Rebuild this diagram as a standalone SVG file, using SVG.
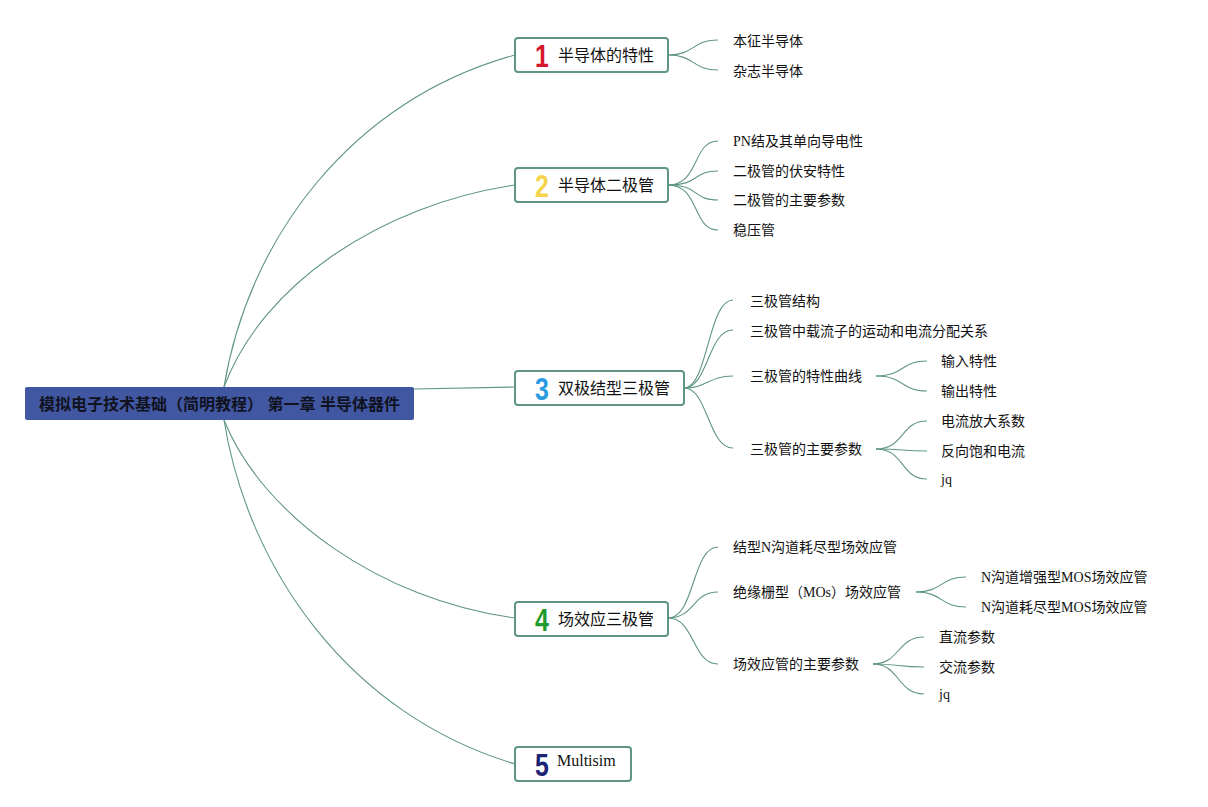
<svg xmlns="http://www.w3.org/2000/svg" width="1208" height="807" viewBox="0 0 1208 807">
<style>
.c{fill:none;stroke:#5f9583;stroke-width:1.1}
.box{fill:#fff;stroke:#5f9583;stroke-width:2}
.t{font-family:"Liberation Serif","Noto Sans CJK SC",serif;font-size:14px;fill:#111}
.bt{font-family:"Liberation Serif","Noto Sans CJK SC",serif;font-size:16px;fill:#111}
.num{font-family:"Liberation Sans","DejaVu Sans",sans-serif;font-size:31px;font-weight:bold}
.root{font-family:"Liberation Sans","Noto Sans CJK SC",sans-serif;font-size:16px;font-weight:bold;fill:#10131f}
</style>
<rect width="1208" height="807" fill="#fff"/>
<g id="connectors">
<path class="c" d="M224,387 C248,240 350,100 515,55"/>
<path class="c" d="M224,387 C262,285 380,205 515,185"/>
<path class="c" d="M414,389 L515,387"/>
<path class="c" d="M224,420 C262,515 380,600 515,618"/>
<path class="c" d="M224,420 C248,570 350,715 515,764"/>
<path class="c" d="M668,55 C695,55 692,40 718,40"/>
<path class="c" d="M668,55 C695,55 692,70 718,70"/>
<path class="c" d="M668,185 C700,185 692,141 718,141"/>
<path class="c" d="M668,185 C700,185 692,171 718,171"/>
<path class="c" d="M668,185 C700,185 692,200 718,200"/>
<path class="c" d="M668,185 C700,185 692,230 718,230"/>
<path class="c" d="M684,388 C708,388 708,300 733,300"/>
<path class="c" d="M684,388 C708,388 708,330 733,330"/>
<path class="c" d="M684,388 C708,388 708,376 733,376"/>
<path class="c" d="M684,388 C708,388 708,448 733,448"/>
<path class="c" d="M876,376 C905,376 900,361 927,361"/>
<path class="c" d="M876,376 C905,376 900,391 927,391"/>
<path class="c" d="M876,449 C905,449 900,421 927,421"/>
<path class="c" d="M876,449 C905,449 900,451 927,451"/>
<path class="c" d="M876,449 C905,449 900,479 927,479"/>
<path class="c" d="M668,618 C695,618 692,547 718,547"/>
<path class="c" d="M668,618 C695,618 692,592 718,592"/>
<path class="c" d="M668,618 C695,618 692,664 718,664"/>
<path class="c" d="M916,592 C943,592 940,577 966,577"/>
<path class="c" d="M916,592 C943,592 940,607 966,607"/>
<path class="c" d="M873,664 C900,664 897,637 924,637"/>
<path class="c" d="M873,664 C900,664 897,667 924,667"/>
<path class="c" d="M873,664 C900,664 897,694 924,694"/>
</g>
<g id="root">
<rect x="25" y="387" width="389" height="33" rx="2" fill="#4157a2"/>
<text class="root" x="219.5" y="409.5" text-anchor="middle">模拟电子技术基础（简明教程） 第一章 半导体器件</text>
</g>
<g id="n1">
<rect class="box" x="515" y="38" width="153" height="34" rx="3"/>
<text class="num" transform="translate(542,67) scale(0.8,1)" text-anchor="middle" fill="#d6182f">1</text>
<text class="bt" x="558" y="61">半导体的特性</text>
</g>
<g id="n2">
<rect class="box" x="515" y="168" width="153" height="34" rx="3"/>
<text class="num" transform="translate(542,197) scale(0.8,1)" text-anchor="middle" fill="#f3d44a">2</text>
<text class="bt" x="558" y="191">半导体二极管</text>
</g>
<g id="n3">
<rect class="box" x="515" y="371" width="169" height="34" rx="3"/>
<text class="num" transform="translate(542,400) scale(0.8,1)" text-anchor="middle" fill="#2a9be0">3</text>
<text class="bt" x="558" y="394">双极结型三极管</text>
</g>
<g id="n4">
<rect class="box" x="515" y="602" width="153" height="34" rx="3"/>
<text class="num" transform="translate(542,631) scale(0.8,1)" text-anchor="middle" fill="#1f9a2c">4</text>
<text class="bt" x="558" y="625">场效应三极管</text>
</g>
<g id="n5">
<rect class="box" x="515" y="747" width="116" height="34" rx="3"/>
<text class="num" transform="translate(542,776) scale(0.8,1)" text-anchor="middle" fill="#1b2375">5</text>
<text class="bt" x="557" y="766">Multisim</text>
</g>
<g id="leaves1">
<text class="t" x="733" y="46">本征半导体</text>
<text class="t" x="733" y="76">杂志半导体</text>
</g>
<g id="leaves2">
<text class="t" x="733" y="146">PN结及其单向导电性</text>
<text class="t" x="733" y="176">二极管的伏安特性</text>
<text class="t" x="733" y="205">二极管的主要参数</text>
<text class="t" x="733" y="235">稳压管</text>
</g>
<g id="leaves3">
<text class="t" x="750" y="306">三极管结构</text>
<text class="t" x="750" y="336">三极管中载流子的运动和电流分配关系</text>
<text class="t" x="750" y="381">三极管的特性曲线</text>
<text class="t" x="941" y="366">输入特性</text>
<text class="t" x="941" y="396">输出特性</text>
<text class="t" x="750" y="454">三极管的主要参数</text>
<text class="t" x="941" y="426">电流放大系数</text>
<text class="t" x="941" y="456">反向饱和电流</text>
<text class="t" x="941" y="484">jq</text>
</g>
<g id="leaves4">
<text class="t" x="733" y="552">结型N沟道耗尽型场效应管</text>
<text class="t" x="733" y="597">绝缘栅型（MOs）场效应管</text>
<text class="t" x="981" y="582">N沟道增强型MOS场效应管</text>
<text class="t" x="981" y="612">N沟道耗尽型MOS场效应管</text>
<text class="t" x="733" y="669">场效应管的主要参数</text>
<text class="t" x="939" y="642">直流参数</text>
<text class="t" x="939" y="672">交流参数</text>
<text class="t" x="939" y="699">jq</text>
</g>
</svg>
